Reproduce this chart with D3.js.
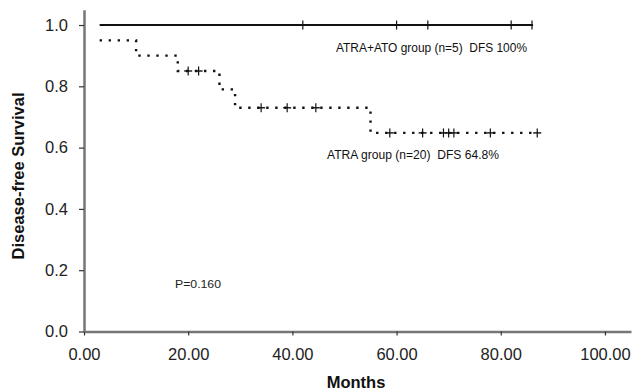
<!DOCTYPE html>
<html><head><meta charset="utf-8">
<script src="https://cdn.jsdelivr.net/npm/d3@7"></script>
<style>
body{margin:0;background:#fff;}
svg{display:block;font-family:"Liberation Sans",Arial,sans-serif;}
text{white-space:pre;}
</style></head>
<body><svg id="c" width="633" height="390"></svg>
<script>
// Data
const xTicks = [0, 20, 40, 60, 80, 100];
const yTicks = [0, 0.2, 0.4, 0.6, 0.8, 1.0];
const atoTimes = [3, 86.2];
const atoSurv = [1.0, 1.0];
const atoCensor = [42, 60, 66, 82, 86];
const atraTimes = [3, 10, 18, 26, 29, 55, 87];
const atraSurv = [0.95, 0.90, 0.85, 0.79, 0.73, 0.648, 0.648];
const atraCensor = [20, 22, 34, 39, 44.5, 58.7, 65, 69, 70, 71, 78, 87];
const labels = {
  ato: "ATRA+ATO group (n=5)  DFS 100%",
  atra: "ATRA group (n=20)  DFS 64.8%",
  p: "P=0.160",
  x: "Months",
  y: "Disease-free Survival"
};

const svg = d3.select("#c");
const x = d3.scaleLinear().domain([0, 105]).range([84, 631]);
const y = d3.scaleLinear().domain([0, 1.05]).range([331.5, 9.7]);
const axisColor = "#767676";

// axes
const gx = svg.append("g").attr("transform", `translate(0,${y(0)})`)
  .call(d3.axisBottom(x).tickValues(xTicks).tickFormat(d3.format(".2f")).tickSizeOuter(0).tickSizeInner(4).tickPadding(13));
const gy = svg.append("g").attr("transform", `translate(${x(0)},0)`)
  .call(d3.axisLeft(y).tickValues(yTicks).tickFormat(d3.format(".1f")).tickSizeOuter(0).tickSizeInner(5).tickPadding(11));
[gx, gy].forEach(g => {
  g.select(".domain").attr("stroke", axisColor).attr("stroke-width", 2.5);
  g.selectAll(".tick line").attr("stroke", "#333").attr("stroke-width", 1.2);
  g.selectAll(".tick text").attr("fill", "#222").style("font-size", "16.5px").style("font-family", "'Liberation Sans',Arial,sans-serif");
});

// step function helper
function survAt(times, surv, t) {
  let v = surv[0];
  for (let i = 0; i < times.length; i++) if (times[i] <= t) v = surv[i];
  return v;
}

const line = d3.line().x(d => x(d[0])).y(d => y(d[1])).curve(d3.curveStepAfter);

// ATRA+ATO solid
svg.append("path").datum(atoTimes.map((t, i) => [t, atoSurv[i]]))
  .attr("d", line).attr("fill", "none").attr("stroke", "#111").attr("stroke-width", 2.2);
svg.append("g").selectAll("line").data(atoCensor).join("line")
  .attr("x1", d => x(d)).attr("x2", d => x(d))
  .attr("y1", d => y(survAt(atoTimes, atoSurv, d)) - 4.5)
  .attr("y2", d => y(survAt(atoTimes, atoSurv, d)) + 4.5)
  .attr("stroke", "#111").attr("stroke-width", 1.2);

// ATRA dotted
svg.append("path").datum(atraTimes.map((t, i) => [t, atraSurv[i]]))
  .attr("d", line).attr("fill", "none").attr("stroke", "#111")
  .attr("stroke-width", 2.4).attr("stroke-dasharray", "2.4,6.6");
const cg = svg.append("g").selectAll("g").data(atraCensor).join("g")
  .attr("transform", d => `translate(${x(d)},${y(survAt(atraTimes, atraSurv, d))})`);
cg.append("line").attr("x1", 0).attr("x2", 0).attr("y1", -4.5).attr("y2", 4.5)
  .attr("stroke", "#111").attr("stroke-width", 1.2);
cg.append("line").attr("x1", -4).attr("x2", 4).attr("y1", 0).attr("y2", 0)
  .attr("stroke", "#111").attr("stroke-width", 1.4);

// annotations
svg.append("text").attr("x", 336).attr("y", 51.5).text(labels.ato)
  .style("font-size", "12px").attr("fill", "#111")
  .attr("textLength", 191).attr("lengthAdjust", "spacingAndGlyphs");
svg.append("text").attr("x", 327).attr("y", 159).text(labels.atra)
  .style("font-size", "12px").attr("fill", "#111")
  .attr("textLength", 172).attr("lengthAdjust", "spacingAndGlyphs");
svg.append("text").attr("x", 175).attr("y", 288).text(labels.p)
  .style("font-size", "11.5px").attr("fill", "#222")
  .attr("textLength", 46).attr("lengthAdjust", "spacingAndGlyphs");

// axis titles
svg.append("text").attr("x", 356).attr("y", 388).attr("text-anchor", "middle")
  .text(labels.x).style("font-size", "16.5px").style("font-weight", "bold").attr("fill", "#111");
svg.append("text").attr("transform", "translate(24,176) rotate(-90)").attr("text-anchor", "middle")
  .text(labels.y).style("font-size", "16.5px").style("font-weight", "bold").attr("fill", "#111");
</script></body></html>
